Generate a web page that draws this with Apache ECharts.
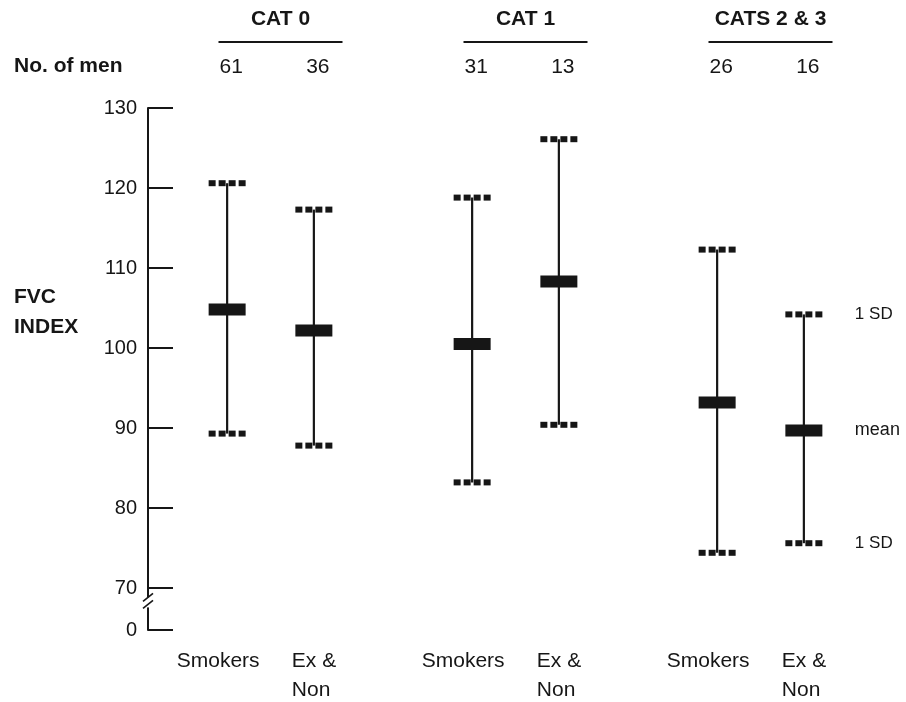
<!DOCTYPE html>
<html><head><meta charset="utf-8">
<script src="https://cdn.jsdelivr.net/npm/echarts@6/dist/echarts.min.js"></script>
<style>html,body{margin:0;padding:0;background:#fff}#c{width:906px;height:702px}</style>
</head><body><div id="c"></div>
<script>
// ---- data ----
const groups = ['CAT 0', 'CAT 1', 'CATS 2 & 3'];
const subgroupLabels = ['Smokers', 'Ex &\nNon'];
const smokersN = [61, 31, 26];
const exNonN = [36, 13, 16];
const smokersMean = [104.8, 100.5, 93.2];
const smokersUpper = [120.6, 118.8, 112.3];
const smokersLower = [89.3, 83.2, 74.4];
const exNonMean = [102.2, 108.3, 89.7];
const exNonUpper = [117.3, 126.1, 104.2];
const exNonLower = [87.8, 90.4, 75.6];
const yTickValues = [70, 80, 90, 100, 110, 120, 130];
const yBrokenZero = 64.75;   // axis position where the broken "0" is drawn
const yBreakAt = 68.2;       // where the break mark sits
const rightNotes = ['1 SD', 'mean', '1 SD'];
const yTitle = 'FVC\nINDEX';
const countTitle = 'No. of men';

// ---- layout / style ----
const FONT = '"Liberation Sans", Arial, Helvetica, sans-serif';
const INK = '#161616';

function errRender(sign, label, withNotes) {
  return function (params, api) {
    const i = api.value(0);
    const c = api.coord([i, api.value(1)]);
    const lo = api.coord([i, api.value(2)]);
    const hi = api.coord([i, api.value(3)]);
    const band = api.size([1, 0])[0];
    const x = c[0] + sign * band * 0.177;
    const cs = params.coordSys;
    const ch = [
      { type: 'line', shape: { x1: x, y1: hi[1], x2: x, y2: lo[1] }, style: { stroke: INK, lineWidth: 2.2 } },
      { type: 'rect', shape: { x: x - 18.5, y: c[1] - 6, width: 37, height: 12 }, style: { fill: INK } }
    ];
    for (let k = 0; k < 4; k++) {
      ch.push({ type: 'rect', shape: { x: x - 18.5 + k * 10, y: hi[1] - 3, width: 7, height: 6 }, style: { fill: INK } });
      ch.push({ type: 'rect', shape: { x: x - 18.5 + k * 10, y: lo[1] - 3, width: 7, height: 6 }, style: { fill: INK } });
    }
    ch.push({ type: 'text', style: { text: String(api.value(4)), x: x + 4, y: cs.y - 41, align: 'center', verticalAlign: 'middle', fill: INK, fontSize: 21, fontFamily: FONT } });
    if (sign < 0) {
      ch.push({ type: 'text', style: { text: label, x: x - 9, y: cs.y + cs.height + 17, align: 'center', verticalAlign: 'top', fill: INK, fontSize: 21, fontFamily: FONT, lineHeight: 29 } });
    } else {
      ch.push({ type: 'text', style: { text: label, x: x - 22, y: cs.y + cs.height + 17, align: 'left', verticalAlign: 'top', fill: INK, fontSize: 21, fontFamily: FONT, lineHeight: 29 } });
    }
    if (withNotes && params.dataIndex === params.dataInsideLength - 1) {
      const ys = [hi[1], c[1], lo[1]];
      for (let k = 0; k < 3; k++) {
        ch.push({ type: 'text', style: { text: rightNotes[k], x: x + 51, y: ys[k], align: 'left', verticalAlign: 'middle', fill: INK, fontSize: k === 1 ? 18 : 17, fontFamily: FONT } });
      }
    }
    return { type: 'group', children: ch };
  };
}

const smokersData = groups.map((g, i) => [i, smokersMean[i], smokersLower[i], smokersUpper[i], smokersN[i]]);
const exNonData = groups.map((g, i) => [i, exNonMean[i], exNonLower[i], exNonUpper[i], exNonN[i]]);

const chart = echarts.init(document.getElementById('c'));
chart.setOption({
  animation: false,
  backgroundColor: '#fff',
  grid: { left: 148, right: 23, top: 108, bottom: 72 },
  xAxis: {
    type: 'category', data: groups, position: 'top',
    axisLine: { show: false }, axisTick: { show: false },
    axisLabel: { margin: 78, fontSize: 21, fontWeight: 'bold', color: INK, fontFamily: FONT, padding: [0, 0, 0, 20] },
    splitLine: { show: false }
  },
  yAxis: {
    type: 'value', min: yBrokenZero, max: 130,
    axisLine: { show: true, lineStyle: { color: INK, width: 2 } },
    axisTick: { show: true, inside: true, length: 25, lineStyle: { color: INK, width: 2 }, customValues: [yBrokenZero].concat(yTickValues) },
    axisLabel: {
      customValues: [yBrokenZero].concat(yTickValues),
      margin: 11, fontSize: 20, color: INK, fontFamily: FONT,
      formatter: v => (Math.abs(v - yBrokenZero) < 0.01 ? '0' : String(v))
    },
    splitLine: { show: false }
  },
  series: [
    {
      type: 'custom', name: 'rules', data: groups.map((g, i) => [i]), encode: { x: 0 }, clip: false, silent: true,
      renderItem: function (params, api) {
        const p = api.coord([api.value(0), 130]);
        const cx = p[0] + 10;
        return { type: 'line', shape: { x1: cx - 62, y1: p[1] - 66, x2: cx + 62, y2: p[1] - 66 }, style: { stroke: INK, lineWidth: 2 } };
      }
    },
    { type: 'custom', name: 'Smokers', data: smokersData, encode: { x: 0, y: [1, 2, 3] }, clip: false, renderItem: errRender(-1, subgroupLabels[0], false) },
    { type: 'custom', name: 'Ex & Non', data: exNonData, encode: { x: 0, y: [1, 2, 3] }, clip: false, renderItem: errRender(1, subgroupLabels[1], true) }
  ]
});

const ax = 148;
const yb = chart.convertToPixel({ yAxisIndex: 0 }, yBreakAt);
chart.setOption({
  graphic: [
    { type: 'rect', z: 100, shape: { x: ax - 4, y: yb - 5, width: 8, height: 10 }, style: { fill: '#fff' } },
    { type: 'line', z: 101, shape: { x1: ax - 5, y1: yb - 1, x2: ax + 5, y2: yb - 9 }, style: { stroke: INK, lineWidth: 1.6 } },
    { type: 'line', z: 101, shape: { x1: ax - 5, y1: yb + 6, x2: ax + 5, y2: yb - 2 }, style: { stroke: INK, lineWidth: 1.6 } },
    { type: 'text', z: 100, left: 14, top: 56, style: { text: countTitle, fill: INK, fontSize: 21, fontWeight: 'bold', fontFamily: FONT } },
    { type: 'text', z: 100, left: 14, top: 282, style: { text: yTitle, fill: INK, fontSize: 21, fontWeight: 'bold', fontFamily: FONT, lineHeight: 30 } }
  ]
});
</script>
</body></html>
